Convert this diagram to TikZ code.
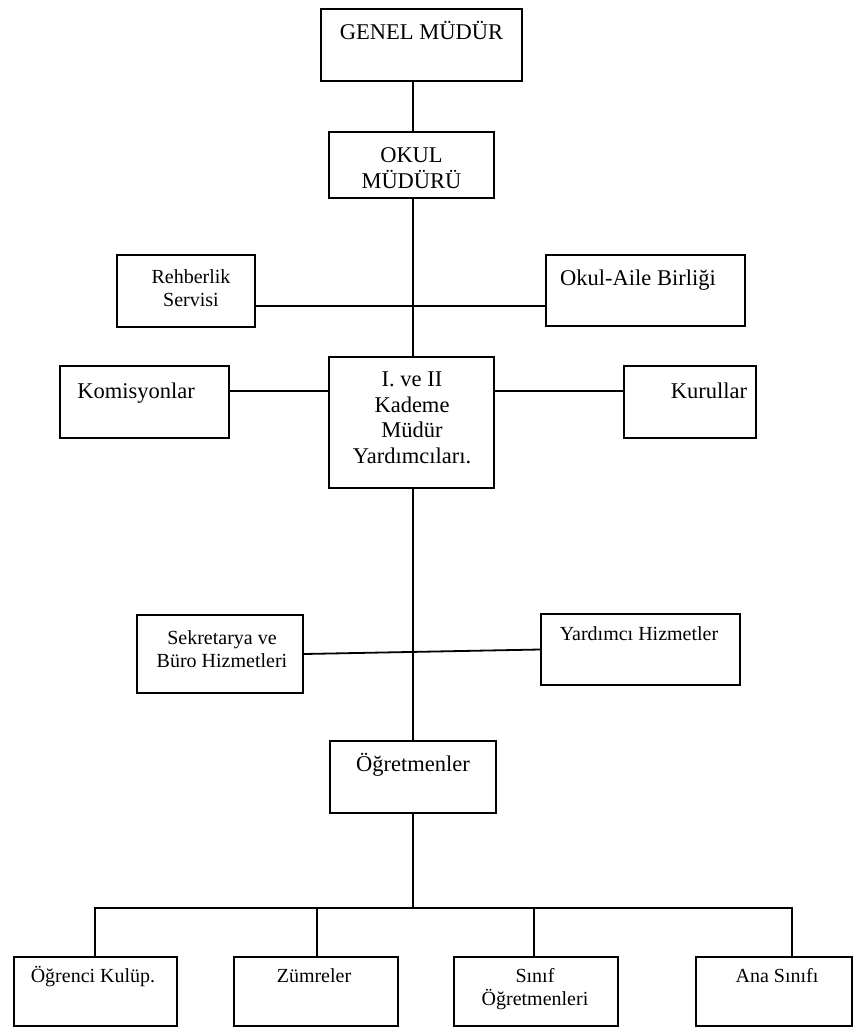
\documentclass[tikz,border=0pt]{standalone}
\usepackage{fontspec}
\setmainfont{Liberation Serif}
\usetikzlibrary{positioning}

\begin{document}
\begin{tikzpicture}[x=1pt,y=-1pt,
  box/.style={draw,line width=1.8pt,inner sep=0pt},
  big/.style={font=\fontsize{22.5}{25.5}\selectfont,align=center,inner sep=0pt,anchor=base},
  small/.style={font=\fontsize{20}{23}\selectfont,align=center,inner sep=0pt,anchor=base},
  link/.style={line width=1.8pt}]
  \useasboundingbox (0,0) rectangle (854,1028);
  % Main column (text nodes sit on the baseline of their last line)
  \node[box,minimum width=201,minimum height=72] (gm) at (421.5,45) {};
  \node[big] (gm-t) at (421.5,39) {GENEL MÜDÜR};
  \node[box,minimum width=165,minimum height=66] (om) at (411.5,165) {};
  \node[big] (om-t) at (411.5,188) {OKUL\\MÜDÜRÜ};
  \node[box,minimum width=165,minimum height=131] (my) at (411.5,422.5) {};
  \node[big] (my-t) at (412,463) {I. ve II\\Kademe\\Müdür\\Yardımcıları.};
  \node[box,minimum width=166,minimum height=72] (ogr) at (413,777) {};
  \node[big] (ogr-t) at (413,771) {Öğretmenler};
  % Side units
  \node[box,minimum width=138,minimum height=72] (reh) at (186,291) {};
  \node[small] (reh-t) at (191,306) {Rehberlik\\Servisi};
  \node[box,minimum width=199,minimum height=71] (oab) at (645.5,290.5) {};
  \node[big] (oab-t) at (638,285) {Okul-Aile Birliği};
  \node[box,minimum width=169,minimum height=72] (kom) at (144.5,402) {};
  \node[big] (kom-t) at (136,398) {Komisyonlar};
  \node[box,minimum width=132,minimum height=72] (kur) at (690,402) {};
  \node[big] (kur-t) at (709,398) {Kurullar};
  \node[box,minimum width=166,minimum height=78] (sek) at (220,654) {};
  \node[small] (sek-t) at (222,667) {Sekretarya ve\\Büro Hizmetleri};
  \node[box,minimum width=199,minimum height=71] (yh) at (640.5,649.5) {};
  \node[small] (yh-t) at (639,640) {Yardımcı Hizmetler};
  % Bottom row
  \node[box,minimum width=163,minimum height=69] (ogk) at (95.5,991.5) {};
  \node[small] (ogk-t) at (93,982) {Öğrenci Kulüp.};
  \node[box,minimum width=164,minimum height=69] (zum) at (316,991.5) {};
  \node[small] (zum-t) at (314,982) {Zümreler};
  \node[box,minimum width=164,minimum height=69] (sin) at (536,991.5) {};
  \node[small] (sin-t) at (535,1005) {Sınıf\\Öğretmenleri};
  \node[box,minimum width=156,minimum height=69] (ana) at (774,991.5) {};
  \node[small] (ana-t) at (777,982) {Ana Sınıfı};
  % Connectors
  \coordinate (col) at (413,0);
  \coordinate (j1) at (413,306);
  \coordinate (j2) at (413,391);
  \coordinate (bus) at (413,908);
  \draw[link] (gm.south -| col) -- (om.north -| col);
  \draw[link] (om.south -| col) -- (my.north -| col);
  \draw[link] (reh.east |- j1) -- (oab.west |- j1);
  \draw[link] (kom.east |- j2) -- (my.west |- j2);
  \draw[link] (my.east |- j2) -- (kur.west |- j2);
  \draw[link] (my.south -| col) -- (ogr.north -| col);
  \draw[link] (sek.east) -- (yh.west);
  \draw[link] (ogr.south -| col) -- (bus);
  \draw[link] (ogk.north -| 95,0) -- (95,908) -- (792,908) -- (ana.north -| 792,0);
  \draw[link] (317,908) -- (zum.north -| 317,0);
  \draw[link] (534,908) -- (sin.north -| 534,0);
\end{tikzpicture}
\end{document}
